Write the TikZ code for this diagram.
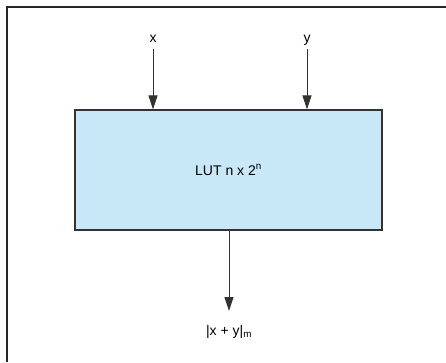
\documentclass[tikz,border=0pt]{standalone}
\usepackage{fontspec}
\setmainfont{Liberation Sans}
\usetikzlibrary{arrows.meta}
\definecolor{boxblue}{HTML}{C8E8F8}
\definecolor{linegray}{HTML}{333333}
\begin{document}
\begin{tikzpicture}[x=1pt,y=-1pt,
  lutbox/.style={draw=linegray,line width=1.2pt,fill=boxblue,minimum width=307pt,minimum height=120pt,inner sep=0pt,font=\fontsize{14}{16}\selectfont},
  lbl/.style={font=\fontsize{14}{16}\selectfont,inner sep=0pt},
  sig/.style={draw=linegray,line width=1pt,-{Triangle[length=14pt,width=9pt]}}]
\useasboundingbox (0,0) rectangle (446,362);
\draw[line width=2pt,color=black!85] (7,362) -- (7,7) -- (446,7);
\node[lutbox] (lut) at (228.5,170) {LUT n x 2$^{\mathrm{n}}$};
\node[lbl,anchor=base] (x) at (153,42) {x};
\node[lbl,anchor=base] (y) at (307,42) {y};
\node[lbl] (out) at (229,332) {|x + y|$_{\mathrm{m}}$};
\coordinate (xs) at (153,49);
\coordinate (ys) at (307,49);
\coordinate (os) at (229,311);
\draw[sig] (xs) -- (xs |- lut.north);
\draw[sig] (ys) -- (ys |- lut.north);
\draw[sig] (os |- lut.south) -- (os);
\end{tikzpicture}
\end{document}
